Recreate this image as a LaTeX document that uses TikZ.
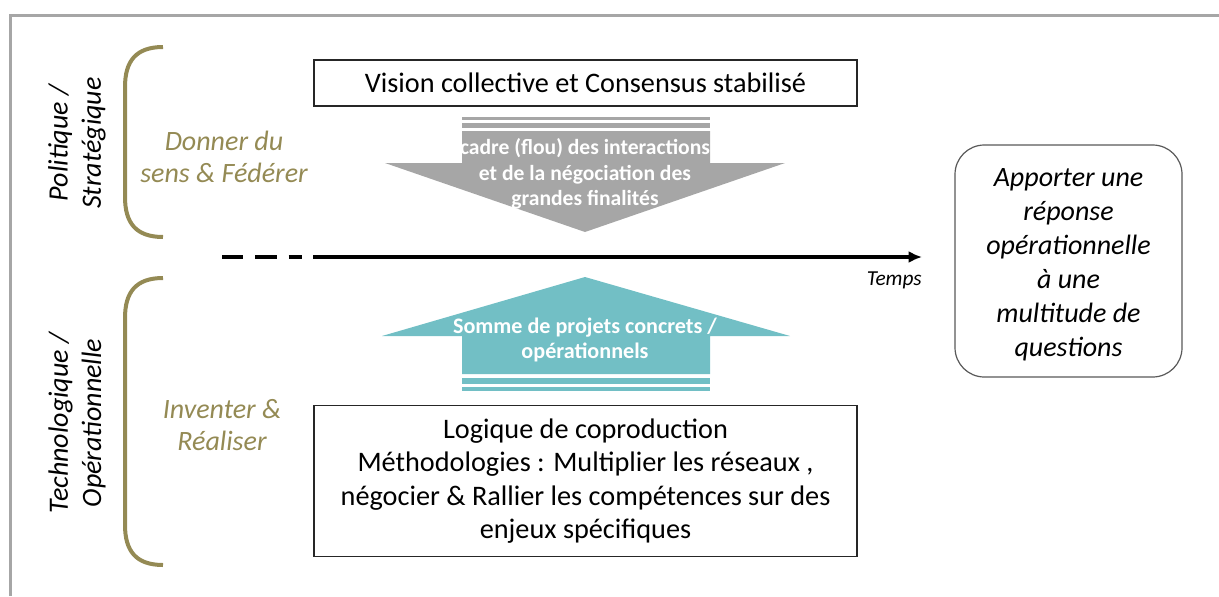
\documentclass[tikz,border=0pt]{standalone}
\usepackage{fontspec}
\setmainfont{Carlito}
\usetikzlibrary{positioning,arrows.meta}
\definecolor{bronze}{HTML}{948A54}
\definecolor{grisflou}{HTML}{A6A6A6}
\definecolor{turquoise}{HTML}{72BFC5}
\newcommand{\crochet}[2]{\draw[bronze, line width=3pt] (163,#1) .. controls (136,#1) and (125,#1+14) .. (125,#1+40) -- (125,#2-40) .. controls (125,#2-14) and (136,#2) .. (163,#2);}

\begin{document}
\begin{tikzpicture}[x=0.75pt,y=-0.75pt,
	boite/.style={draw=black!85, line width=0.9pt, fill=white, align=center, inner sep=0pt, font=\fontsize{21.2}{25}\selectfont},
	fleche/.style={text=white, align=center, inner sep=0pt, font=\bfseries\fontsize{16.2}{19}\selectfont},
	niveau/.style={rotate=90, align=center, inner sep=0pt, font=\itshape\fontsize{21}{25}\selectfont},
	role/.style={text=bronze, align=center, inner sep=0pt, font=\itshape\fontsize{21}{24}\selectfont}]

	\useasboundingbox (0,0) rectangle (1219,596);
	\draw[grisflou, line width=2.25pt] (10,596) -- (10,15) -- (1219,15);

	% niveaux
	\crochet{47}{237}
	\crochet{278}{565}
	\node[niveau] (politique) at (77,143) {Politique /\\Stratégique};
	\node[niveau] (techno) at (77,423) {Technologique /\\Opérationnelle};
	\node[role] (sens) at (224,157) {Donner du\\sens \& Fédérer};
	\node[role] (inventer) at (222,425) {Inventer \&\\Réaliser};

	% fleche descendante
	\fill[grisflou] (462,117) rectangle (710,120);
	\fill[grisflou] (462,123) rectangle (710,128);
	\fill[grisflou] (462,131) -- (710,131) -- (710,163) -- (785,163) -- (585,232) -- (385,163) -- (462,163) -- cycle;
	\node[fleche] (cadre) at (585,174) {cadre (flou) des interactions\\et de la négociation des\\grandes finalités};

	% fleche montante
	\fill[turquoise] (585,277) -- (790,336) -- (710,336) -- (710,374) -- (462,374) -- (462,336) -- (382,336) -- cycle;
	\fill[turquoise] (462,378) rectangle (710,384);
	\fill[turquoise] (462,387) rectangle (710,391);
	\node[fleche, font=\bfseries\fontsize{16.6}{18.75}\selectfont] (somme) at (585,340) {Somme de projets concrets /\\opérationnels};

	% boites
	\node[boite, minimum width=407.25pt, minimum height=34.5pt] (vision) at (585.5,83) {Vision collective et Consensus stabilisé};
	\node[boite, minimum width=407.25pt, minimum height=113.25pt] (logique) at (585.5,481) {Logique de coproduction\\Méthodologies : Multiplier les réseaux ,\\négocier \& Rallier les compétences sur des\\enjeux spécifiques};
	\node[boite, draw=black!65, rounded corners=22pt, minimum width=170.25pt, minimum height=174pt, font=\itshape\fontsize{21}{25.5}\selectfont] (reponse) at (1068.5,261) {};
	\node[font=\itshape\fontsize{21}{25.5}\selectfont, align=center, inner sep=0pt] (reponsetxt) at (1068.5,265) {Apporter une\\réponse\\opérationnelle\\à une\\multitude de\\questions};

	% temps
	\coordinate (passe) at (222,257);
	\coordinate (present) at (302,257);
	\coordinate (debut) at (313,257);
	\coordinate (fin) at (922,257);
	\draw[line width=2.6pt, dash pattern=on 16pt off 9pt] (passe) -- (present);
	\draw[line width=2.6pt, -{Latex[length=10pt,width=9pt]}] (debut) -- (fin);
	\node[font=\itshape\fontsize{16}{16}\selectfont, inner sep=0pt, below left=11pt and 0pt of fin] (temps) {Temps};

\end{tikzpicture}
\end{document}
